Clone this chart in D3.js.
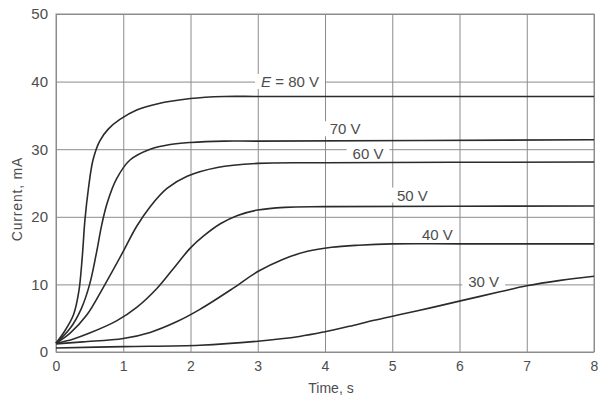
<!DOCTYPE html>
<html>
<head>
<meta charset="utf-8">
<script src="https://cdn.jsdelivr.net/npm/d3@7"></script>
<style>
  body { margin: 0; background: #fff; }
  svg { display: block; font-family: "Liberation Sans", Arial, sans-serif; }
</style>
</head>
<body>
<svg id="chart"></svg>
<script>
// curves: time (s) and current (mA) for each voltage
var t80 = [0, 0.13, 0.26, 0.34, 0.39, 0.43, 0.48, 0.55, 0.65, 0.78, 0.95, 1.2, 1.5, 2.0, 2.5, 3.0, 4.0, 8.0];
var i80 = [1.3, 3.1, 5.5, 9.0, 14.0, 19.5, 24.0, 28.4, 31.2, 33.0, 34.4, 35.8, 36.7, 37.5, 37.8, 37.8, 37.8, 37.8];

var t70 = [0, 0.21, 0.38, 0.5, 0.6, 0.68, 0.76, 0.9, 1.1, 1.4, 1.7, 2.0, 2.5, 3.0, 8.0];
var i70 = [1.3, 3.5, 6.5, 10.0, 14.6, 18.8, 22.0, 25.6, 28.4, 30.0, 30.7, 31.0, 31.2, 31.2, 31.4];

var t60 = [0, 0.21, 0.46, 0.7, 0.98, 1.2, 1.4, 1.65, 1.95, 2.4, 3.0, 4.0, 8.0];
var i60 = [1.3, 2.8, 5.5, 9.5, 14.5, 18.6, 21.5, 24.2, 26.0, 27.3, 27.9, 28.0, 28.1];

var t50 = [0, 0.25, 0.5, 0.9, 1.2, 1.5, 1.75, 2.0, 2.2, 2.45, 2.7, 3.0, 3.4, 4.0, 8.0];
var i50 = [1.3, 1.9, 2.8, 4.6, 6.6, 9.4, 12.4, 15.4, 17.2, 19.0, 20.2, 21.0, 21.4, 21.5, 21.6];

var t40 = [0, 0.4, 1.0, 1.4, 1.8, 2.14, 2.63, 3.0, 3.37, 3.74, 4.1, 4.5, 5.0, 6.0, 8.0];
var i40 = [1.2, 1.5, 2.0, 2.9, 4.5, 6.3, 9.4, 11.9, 13.7, 14.9, 15.5, 15.8, 16.0, 16.0, 16.0];

var t30 = [0, 1.0, 2.14, 3.0, 3.62, 4.0, 4.36, 4.73, 5.1, 5.6, 6.03, 6.6, 7.0, 7.5, 8.0];
var i30 = [0.6, 0.8, 1.0, 1.6, 2.3, 3.0, 3.8, 4.7, 5.5, 6.6, 7.6, 8.9, 9.8, 10.6, 11.2];

var timeTicks = [0, 1, 2, 3, 4, 5, 6, 7, 8];
var currentTicks = [0, 10, 20, 30, 40, 50];

// curve labels: text and where they sit (time, current)
var labelText = ["80 V", "70 V", "60 V", "50 V", "40 V", "30 V"];
var labelT = [3.48, 4.30, 4.64, 5.30, 5.67, 6.36];
var labelI = [40, 33, 29.3, 23.2, 17.4, 10.4];

var series = [[t80, i80], [t70, i70], [t60, i60], [t50, i50], [t40, i40], [t30, i30]];

var svgWidth = 599, svgHeight = 399;
var margin = { top: 14, right: 5, bottom: 47, left: 56 };
var width = svgWidth - margin.left - margin.right;
var height = svgHeight - margin.top - margin.bottom;

var svg = d3.select("#chart")
    .attr("width", svgWidth)
    .attr("height", svgHeight);

var g = svg.append("g")
    .attr("transform", "translate(" + margin.left + "," + margin.top + ")");

var x = d3.scaleLinear().domain([0, 8]).range([0, width]);
var y = d3.scaleLinear().domain([0, 50]).range([height, 0]);

var gridColor = "#8c8c8c", textColor = "#4d4d4d";

// x axis with full height grid lines
var xAxis = g.append("g")
    .attr("transform", "translate(0," + height + ")")
    .call(d3.axisBottom(x).tickValues(timeTicks).tickSize(-height).tickPadding(9).tickFormat(d3.format("d")));
xAxis.select(".domain").remove();
xAxis.selectAll("line").attr("stroke", gridColor);
xAxis.selectAll("text").attr("fill", textColor).style("font-size", "14px");

// y axis with full width grid lines
var yAxis = g.append("g")
    .call(d3.axisLeft(y).tickValues(currentTicks).tickSize(-width).tickPadding(8).tickFormat(d3.format("d")));
yAxis.select(".domain").remove();
yAxis.selectAll("line").attr("stroke", gridColor);
yAxis.selectAll("text").attr("fill", textColor).style("font-size", "15px");

// frame
g.append("rect")
    .attr("width", width)
    .attr("height", height)
    .attr("fill", "none")
    .attr("stroke", gridColor);

// labels first get a white patch that breaks the grid lines
var labels = g.selectAll(".curve-label")
    .data(labelText)
    .enter()
    .append("text")
    .attr("class", "curve-label")
    .attr("x", function(d, i) { return x(labelT[i]); })
    .attr("y", function(d, i) { return y(labelI[i]); })
    .attr("dy", "0.36em")
    .attr("text-anchor", "middle")
    .attr("fill", textColor)
    .style("font-size", "15px");

labels.each(function(d, i) {
    var el = d3.select(this);
    if (i === 0) {
        el.append("tspan").style("font-style", "italic").text("E");
        el.append("tspan").text(" = " + d);
    } else {
        el.text(d);
    }
});

labels.each(function() {
    var b = this.getBBox();
    g.insert("rect", ".curve-label")
        .attr("x", b.x - 6)
        .attr("y", b.y + 1)
        .attr("width", b.width + 12)
        .attr("height", b.height - 2)
        .attr("fill", "#fff");
});

var line = d3.line()
    .x(function(d) { return x(d[0]); })
    .y(function(d) { return y(d[1]); })
    .curve(d3.curveCatmullRom.alpha(0.5));

g.selectAll(".curve")
    .data(series)
    .enter()
    .insert("path", ".curve-label")
    .attr("class", "curve")
    .attr("fill", "none")
    .attr("stroke", "#2b2b2b")
    .attr("stroke-width", 1.6)
    .attr("d", function(s) {
        return line(s[0].map(function(t, k) { return [t, s[1][k]]; }));
    });

// axis titles
svg.append("text")
    .attr("transform", "translate(22," + (margin.top + y(25) + 16) + ") rotate(-90)")
    .attr("text-anchor", "middle")
    .attr("fill", textColor)
    .style("font-size", "14px")
    .style("letter-spacing", "0.8px")
    .text("Current, mA");

svg.append("text")
    .attr("x", margin.left + x(4) + 6)
    .attr("y", 393)
    .attr("text-anchor", "middle")
    .attr("fill", textColor)
    .style("font-size", "14px")
    .text("Time, s");
</script>
</body>
</html>
